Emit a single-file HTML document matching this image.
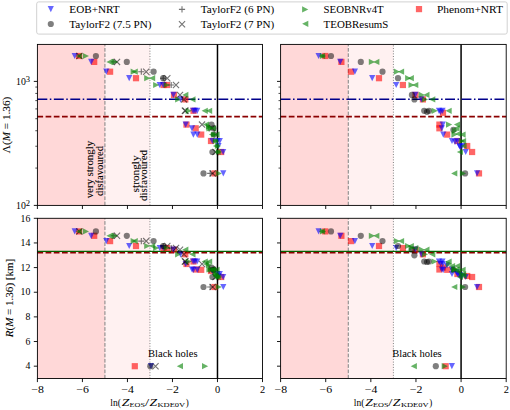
<!DOCTYPE html>
<html><head><meta charset="utf-8"><style>html,body{margin:0;padding:0;background:#fff;}svg{display:block;}</style></head><body>
<svg width="510" height="410" viewBox="0 0 510 410" font-family='"Liberation Serif", serif'>
<rect width="510" height="410" fill="#fff"/>
<rect x="37.40" y="44.40" width="67.53" height="161.00" fill="rgb(255,216,216)"/>
<rect x="104.93" y="44.40" width="45.02" height="161.00" fill="rgb(255,241,241)"/>
<path d="M104.93,205.40V44.40" stroke="rgb(128,128,128)" stroke-width="1" stroke-dasharray="3.7 1.6"/>
<path d="M149.95,205.40V44.40" stroke="rgb(128,128,128)" stroke-width="1" stroke-dasharray="1 1.65"/>
<path d="M217.48,205.40V44.40" stroke="#000" stroke-width="1.5"/>
<path d="M37.40,99.3H262.50" stroke="rgb(0,0,139)" stroke-width="1.55" stroke-dasharray="9.9 2.5 1.55 2.5"/>
<path d="M37.40,116.6H262.50" stroke="rgb(139,0,0)" stroke-width="1.55" stroke-dasharray="5.7 2.5"/>
<rect x="75.90" y="52.90" width="6.20" height="6.20" fill="rgba(255,0,0,0.6)"/>
<rect x="91.10" y="58.80" width="6.20" height="6.20" fill="rgba(255,0,0,0.6)"/>
<rect x="107.00" y="68.60" width="6.20" height="6.20" fill="rgba(255,0,0,0.6)"/>
<rect x="132.90" y="75.10" width="6.20" height="6.20" fill="rgba(255,0,0,0.6)"/>
<rect x="160.40" y="81.90" width="6.20" height="6.20" fill="rgba(255,0,0,0.6)"/>
<rect x="163.90" y="81.90" width="6.20" height="6.20" fill="rgba(255,0,0,0.6)"/>
<rect x="170.90" y="91.80" width="6.20" height="6.20" fill="rgba(255,0,0,0.6)"/>
<rect x="182.20" y="96.30" width="6.20" height="6.20" fill="rgba(255,0,0,0.6)"/>
<rect x="190.40" y="107.70" width="6.20" height="6.20" fill="rgba(255,0,0,0.6)"/>
<rect x="183.40" y="121.50" width="6.20" height="6.20" fill="rgba(255,0,0,0.6)"/>
<rect x="192.60" y="125.20" width="6.20" height="6.20" fill="rgba(255,0,0,0.6)"/>
<rect x="198.10" y="131.50" width="6.20" height="6.20" fill="rgba(255,0,0,0.6)"/>
<rect x="207.90" y="137.90" width="6.20" height="6.20" fill="rgba(255,0,0,0.6)"/>
<rect x="218.10" y="148.90" width="6.20" height="6.20" fill="rgba(255,0,0,0.6)"/>
<rect x="211.40" y="170.30" width="6.20" height="6.20" fill="rgba(255,0,0,0.6)"/>
<polygon points="71.60,52.90 77.80,52.90 74.70,59.10" fill="rgba(0,0,255,0.6)"/>
<polygon points="88.10,58.80 94.30,58.80 91.20,65.00" fill="rgba(0,0,255,0.6)"/>
<polygon points="103.20,68.60 109.40,68.60 106.30,74.80" fill="rgba(0,0,255,0.6)"/>
<polygon points="126.10,75.10 132.30,75.10 129.20,81.30" fill="rgba(0,0,255,0.6)"/>
<polygon points="156.60,81.90 162.80,81.90 159.70,88.10" fill="rgba(0,0,255,0.6)"/>
<polygon points="160.10,81.90 166.30,81.90 163.20,88.10" fill="rgba(0,0,255,0.6)"/>
<polygon points="170.30,91.80 176.50,91.80 173.40,98.00" fill="rgba(0,0,255,0.6)"/>
<polygon points="177.40,96.30 183.60,96.30 180.50,102.50" fill="rgba(0,0,255,0.6)"/>
<polygon points="190.10,107.70 196.30,107.70 193.20,113.90" fill="rgba(0,0,255,0.6)"/>
<polygon points="194.10,107.70 200.30,107.70 197.20,113.90" fill="rgba(0,0,255,0.6)"/>
<polygon points="191.90,107.70 198.10,107.70 195.00,113.90" fill="rgba(0,0,255,0.6)"/>
<polygon points="182.60,121.50 188.80,121.50 185.70,127.70" fill="rgba(0,0,255,0.6)"/>
<polygon points="188.90,125.20 195.10,125.20 192.00,131.40" fill="rgba(0,0,255,0.6)"/>
<polygon points="190.30,131.50 196.50,131.50 193.40,137.70" fill="rgba(0,0,255,0.6)"/>
<polygon points="194.20,131.50 200.40,131.50 197.30,137.70" fill="rgba(0,0,255,0.6)"/>
<polygon points="209.30,137.90 215.50,137.90 212.40,144.10" fill="rgba(0,0,255,0.6)"/>
<polygon points="214.40,137.90 220.60,137.90 217.50,144.10" fill="rgba(0,0,255,0.6)"/>
<polygon points="216.70,137.90 222.90,137.90 219.80,144.10" fill="rgba(0,0,255,0.6)"/>
<polygon points="215.40,142.90 221.60,142.90 218.50,149.10" fill="rgba(0,0,255,0.6)"/>
<polygon points="220.10,148.90 226.30,148.90 223.20,155.10" fill="rgba(0,0,255,0.6)"/>
<polygon points="220.20,170.30 226.40,170.30 223.30,176.50" fill="rgba(0,0,255,0.6)"/>
<circle cx="95.90" cy="56.00" r="3.10" fill="rgba(0,0,0,0.5)"/>
<circle cx="126.80" cy="61.90" r="3.10" fill="rgba(0,0,0,0.5)"/>
<circle cx="153.60" cy="71.70" r="3.10" fill="rgba(0,0,0,0.5)"/>
<circle cx="163.20" cy="78.20" r="3.10" fill="rgba(0,0,0,0.5)"/>
<circle cx="211.50" cy="124.60" r="3.10" fill="rgba(0,0,0,0.5)"/>
<circle cx="213.40" cy="128.30" r="3.10" fill="rgba(0,0,0,0.5)"/>
<circle cx="214.00" cy="134.60" r="3.10" fill="rgba(0,0,0,0.5)"/>
<circle cx="212.40" cy="152.00" r="3.10" fill="rgba(0,0,0,0.5)"/>
<circle cx="203.50" cy="173.40" r="3.10" fill="rgba(0,0,0,0.5)"/>
<path d="M110.70,61.90H116.90M113.80,58.80V65.00" stroke="rgba(0,0,0,0.55)" stroke-width="1.1" fill="none"/>
<path d="M138.20,71.70H144.40M141.30,68.60V74.80" stroke="rgba(0,0,0,0.55)" stroke-width="1.1" fill="none"/>
<path d="M160.10,78.20H166.30M163.20,75.10V81.30" stroke="rgba(0,0,0,0.55)" stroke-width="1.1" fill="none"/>
<path d="M168.10,85.00H174.30M171.20,81.90V88.10" stroke="rgba(0,0,0,0.55)" stroke-width="1.1" fill="none"/>
<path d="M207.10,173.40H213.30M210.20,170.30V176.50" stroke="rgba(0,0,0,0.55)" stroke-width="1.1" fill="none"/>
<path d="M76.30,52.90L82.50,59.10M76.30,59.10L82.50,52.90" stroke="rgba(0,0,0,0.55)" stroke-width="1.1" fill="none"/>
<path d="M113.90,58.80L120.10,65.00M113.90,65.00L120.10,58.80" stroke="rgba(0,0,0,0.55)" stroke-width="1.1" fill="none"/>
<path d="M143.10,68.60L149.30,74.80M143.10,74.80L149.30,68.60" stroke="rgba(0,0,0,0.55)" stroke-width="1.1" fill="none"/>
<path d="M164.20,75.10L170.40,81.30M164.20,81.30L170.40,75.10" stroke="rgba(0,0,0,0.55)" stroke-width="1.1" fill="none"/>
<path d="M172.90,81.90L179.10,88.10M172.90,88.10L179.10,81.90" stroke="rgba(0,0,0,0.55)" stroke-width="1.1" fill="none"/>
<path d="M176.90,91.80L183.10,98.00M176.90,98.00L183.10,91.80" stroke="rgba(0,0,0,0.55)" stroke-width="1.1" fill="none"/>
<path d="M180.90,96.30L187.10,102.50M180.90,102.50L187.10,96.30" stroke="rgba(0,0,0,0.55)" stroke-width="1.1" fill="none"/>
<path d="M181.80,107.70L188.00,113.90M181.80,113.90L188.00,107.70" stroke="rgba(0,0,0,0.55)" stroke-width="1.1" fill="none"/>
<path d="M182.40,107.70L188.60,113.90M182.40,113.90L188.60,107.70" stroke="rgba(0,0,0,0.55)" stroke-width="1.1" fill="none"/>
<path d="M198.90,121.50L205.10,127.70M198.90,127.70L205.10,121.50" stroke="rgba(0,0,0,0.55)" stroke-width="1.1" fill="none"/>
<path d="M208.90,125.20L215.10,131.40M208.90,131.40L215.10,125.20" stroke="rgba(0,0,0,0.55)" stroke-width="1.1" fill="none"/>
<path d="M212.40,148.90L218.60,155.10M212.40,155.10L218.60,148.90" stroke="rgba(0,0,0,0.55)" stroke-width="1.1" fill="none"/>
<path d="M209.60,170.30L215.80,176.50M209.60,176.50L215.80,170.30" stroke="rgba(0,0,0,0.55)" stroke-width="1.1" fill="none"/>
<polygon points="82.80,52.90 89.00,56.00 82.80,59.10" fill="rgba(0,128,0,0.6)"/>
<polygon points="111.90,58.80 118.10,61.90 111.90,65.00" fill="rgba(0,128,0,0.6)"/>
<polygon points="130.60,68.60 136.80,71.70 130.60,74.80" fill="rgba(0,128,0,0.6)"/>
<polygon points="144.20,75.10 150.40,78.20 144.20,81.30" fill="rgba(0,128,0,0.6)"/>
<polygon points="153.10,81.90 159.30,85.00 153.10,88.10" fill="rgba(0,128,0,0.6)"/>
<polygon points="163.70,81.90 169.90,85.00 163.70,88.10" fill="rgba(0,128,0,0.6)"/>
<polygon points="175.10,96.30 181.30,99.40 175.10,102.50" fill="rgba(0,128,0,0.6)"/>
<polygon points="185.70,107.70 191.90,110.80 185.70,113.90" fill="rgba(0,128,0,0.6)"/>
<polygon points="205.90,123.50 212.10,126.60 205.90,129.70" fill="rgba(0,128,0,0.6)"/>
<polygon points="206.40,125.20 212.60,128.30 206.40,131.40" fill="rgba(0,128,0,0.6)"/>
<polygon points="207.90,125.20 214.10,128.30 207.90,131.40" fill="rgba(0,128,0,0.6)"/>
<polygon points="210.90,131.50 217.10,134.60 210.90,137.70" fill="rgba(0,128,0,0.6)"/>
<polygon points="212.90,137.90 219.10,141.00 212.90,144.10" fill="rgba(0,128,0,0.6)"/>
<polygon points="214.90,142.90 221.10,146.00 214.90,149.10" fill="rgba(0,128,0,0.6)"/>
<polygon points="215.90,148.90 222.10,152.00 215.90,155.10" fill="rgba(0,128,0,0.6)"/>
<polygon points="215.70,170.30 221.90,173.40 215.70,176.50" fill="rgba(0,128,0,0.6)"/>
<polygon points="81.90,52.90 75.70,56.00 81.90,59.10" fill="rgba(0,128,0,0.6)"/>
<polygon points="112.60,58.80 106.40,61.90 112.60,65.00" fill="rgba(0,128,0,0.6)"/>
<polygon points="137.80,68.60 131.60,71.70 137.80,74.80" fill="rgba(0,128,0,0.6)"/>
<polygon points="155.20,75.10 149.00,78.20 155.20,81.30" fill="rgba(0,128,0,0.6)"/>
<polygon points="188.40,91.80 182.20,94.90 188.40,98.00" fill="rgba(0,128,0,0.6)"/>
<polygon points="195.50,96.30 189.30,99.40 195.50,102.50" fill="rgba(0,128,0,0.6)"/>
<polygon points="207.80,107.70 201.60,110.80 207.80,113.90" fill="rgba(0,128,0,0.6)"/>
<polygon points="212.20,107.70 206.00,110.80 212.20,113.90" fill="rgba(0,128,0,0.6)"/>
<polygon points="209.10,121.50 202.90,124.60 209.10,127.70" fill="rgba(0,128,0,0.6)"/>
<polygon points="216.10,125.20 209.90,128.30 216.10,131.40" fill="rgba(0,128,0,0.6)"/>
<polygon points="215.10,131.50 208.90,134.60 215.10,137.70" fill="rgba(0,128,0,0.6)"/>
<polygon points="219.60,131.50 213.40,134.60 219.60,137.70" fill="rgba(0,128,0,0.6)"/>
<polygon points="218.10,137.90 211.90,141.00 218.10,144.10" fill="rgba(0,128,0,0.6)"/>
<polygon points="219.10,142.90 212.90,146.00 219.10,149.10" fill="rgba(0,128,0,0.6)"/>
<polygon points="220.60,148.90 214.40,152.00 220.60,155.10" fill="rgba(0,128,0,0.6)"/>
<rect x="37.40" y="44.40" width="225.10" height="161.00" fill="none" stroke="#000" stroke-width="0.9"/>
<path d="M37.40,205.40V209.00" stroke="#000" stroke-width="0.9"/>
<path d="M82.42,205.40V209.00" stroke="#000" stroke-width="0.9"/>
<path d="M127.44,205.40V209.00" stroke="#000" stroke-width="0.9"/>
<path d="M172.46,205.40V209.00" stroke="#000" stroke-width="0.9"/>
<path d="M217.48,205.40V209.00" stroke="#000" stroke-width="0.9"/>
<path d="M262.50,205.40V209.00" stroke="#000" stroke-width="0.9"/>
<path d="M33.80,205.40H37.40" stroke="#000" stroke-width="0.9"/>
<path d="M33.80,81.40H37.40" stroke="#000" stroke-width="0.9"/>
<path d="M35.30,168.07H37.40" stroke="#000" stroke-width="0.7"/>
<path d="M35.30,146.24H37.40" stroke="#000" stroke-width="0.7"/>
<path d="M35.30,130.74H37.40" stroke="#000" stroke-width="0.7"/>
<path d="M35.30,118.73H37.40" stroke="#000" stroke-width="0.7"/>
<path d="M35.30,108.91H37.40" stroke="#000" stroke-width="0.7"/>
<path d="M35.30,100.61H37.40" stroke="#000" stroke-width="0.7"/>
<path d="M35.30,93.42H37.40" stroke="#000" stroke-width="0.7"/>
<path d="M35.30,87.07H37.40" stroke="#000" stroke-width="0.7"/>
<rect x="37.40" y="218.30" width="67.53" height="160.20" fill="rgb(255,216,216)"/>
<rect x="104.93" y="218.30" width="45.02" height="160.20" fill="rgb(255,241,241)"/>
<path d="M104.93,378.50V218.30" stroke="rgb(128,128,128)" stroke-width="1" stroke-dasharray="3.7 1.6"/>
<path d="M149.95,378.50V218.30" stroke="rgb(128,128,128)" stroke-width="1" stroke-dasharray="1 1.65"/>
<path d="M217.48,378.50V218.30" stroke="#000" stroke-width="1.5"/>
<path d="M37.40,251.4H262.50" stroke="rgb(0,100,0)" stroke-width="1.1"/>
<path d="M37.40,252.7H262.50" stroke="rgb(139,0,0)" stroke-width="1.55" stroke-dasharray="5.7 2.5"/>
<rect x="75.90" y="228.30" width="6.20" height="6.20" fill="rgba(255,0,0,0.6)"/>
<rect x="91.10" y="232.70" width="6.20" height="6.20" fill="rgba(255,0,0,0.6)"/>
<rect x="107.00" y="238.00" width="6.20" height="6.20" fill="rgba(255,0,0,0.6)"/>
<rect x="132.90" y="242.90" width="6.20" height="6.20" fill="rgba(255,0,0,0.6)"/>
<rect x="160.40" y="244.90" width="6.20" height="6.20" fill="rgba(255,0,0,0.6)"/>
<rect x="163.90" y="244.90" width="6.20" height="6.20" fill="rgba(255,0,0,0.6)"/>
<rect x="170.90" y="246.60" width="6.20" height="6.20" fill="rgba(255,0,0,0.6)"/>
<rect x="182.20" y="251.20" width="6.20" height="6.20" fill="rgba(255,0,0,0.6)"/>
<rect x="190.40" y="258.40" width="6.20" height="6.20" fill="rgba(255,0,0,0.6)"/>
<rect x="183.40" y="260.90" width="6.20" height="6.20" fill="rgba(255,0,0,0.6)"/>
<rect x="192.60" y="266.40" width="6.20" height="6.20" fill="rgba(255,0,0,0.6)"/>
<rect x="198.10" y="266.70" width="6.20" height="6.20" fill="rgba(255,0,0,0.6)"/>
<rect x="207.90" y="267.90" width="6.20" height="6.20" fill="rgba(255,0,0,0.6)"/>
<rect x="218.10" y="273.90" width="6.20" height="6.20" fill="rgba(255,0,0,0.6)"/>
<rect x="211.40" y="283.90" width="6.20" height="6.20" fill="rgba(255,0,0,0.6)"/>
<rect x="131.70" y="363.10" width="6.20" height="6.20" fill="rgba(255,0,0,0.6)"/>
<polygon points="71.60,228.30 77.80,228.30 74.70,234.50" fill="rgba(0,0,255,0.6)"/>
<polygon points="88.10,232.70 94.30,232.70 91.20,238.90" fill="rgba(0,0,255,0.6)"/>
<polygon points="103.20,238.00 109.40,238.00 106.30,244.20" fill="rgba(0,0,255,0.6)"/>
<polygon points="126.10,242.90 132.30,242.90 129.20,249.10" fill="rgba(0,0,255,0.6)"/>
<polygon points="156.60,244.90 162.80,244.90 159.70,251.10" fill="rgba(0,0,255,0.6)"/>
<polygon points="160.10,244.90 166.30,244.90 163.20,251.10" fill="rgba(0,0,255,0.6)"/>
<polygon points="170.30,246.60 176.50,246.60 173.40,252.80" fill="rgba(0,0,255,0.6)"/>
<polygon points="177.40,251.20 183.60,251.20 180.50,257.40" fill="rgba(0,0,255,0.6)"/>
<polygon points="190.10,258.40 196.30,258.40 193.20,264.60" fill="rgba(0,0,255,0.6)"/>
<polygon points="194.10,258.40 200.30,258.40 197.20,264.60" fill="rgba(0,0,255,0.6)"/>
<polygon points="191.90,258.40 198.10,258.40 195.00,264.60" fill="rgba(0,0,255,0.6)"/>
<polygon points="182.60,260.90 188.80,260.90 185.70,267.10" fill="rgba(0,0,255,0.6)"/>
<polygon points="188.90,266.40 195.10,266.40 192.00,272.60" fill="rgba(0,0,255,0.6)"/>
<polygon points="190.30,266.70 196.50,266.70 193.40,272.90" fill="rgba(0,0,255,0.6)"/>
<polygon points="194.20,266.70 200.40,266.70 197.30,272.90" fill="rgba(0,0,255,0.6)"/>
<polygon points="209.30,267.90 215.50,267.90 212.40,274.10" fill="rgba(0,0,255,0.6)"/>
<polygon points="214.40,270.90 220.60,270.90 217.50,277.10" fill="rgba(0,0,255,0.6)"/>
<polygon points="216.70,270.90 222.90,270.90 219.80,277.10" fill="rgba(0,0,255,0.6)"/>
<polygon points="215.40,272.90 221.60,272.90 218.50,279.10" fill="rgba(0,0,255,0.6)"/>
<polygon points="220.10,273.90 226.30,273.90 223.20,280.10" fill="rgba(0,0,255,0.6)"/>
<polygon points="220.20,283.90 226.40,283.90 223.30,290.10" fill="rgba(0,0,255,0.6)"/>
<polygon points="147.90,363.10 154.10,363.10 151.00,369.30" fill="rgba(0,0,255,0.6)"/>
<circle cx="95.90" cy="231.40" r="3.10" fill="rgba(0,0,0,0.5)"/>
<circle cx="126.80" cy="235.80" r="3.10" fill="rgba(0,0,0,0.5)"/>
<circle cx="153.60" cy="241.10" r="3.10" fill="rgba(0,0,0,0.5)"/>
<circle cx="163.20" cy="246.00" r="3.10" fill="rgba(0,0,0,0.5)"/>
<circle cx="211.50" cy="267.50" r="3.10" fill="rgba(0,0,0,0.5)"/>
<circle cx="213.40" cy="269.50" r="3.10" fill="rgba(0,0,0,0.5)"/>
<circle cx="214.00" cy="269.80" r="3.10" fill="rgba(0,0,0,0.5)"/>
<circle cx="212.40" cy="277.00" r="3.10" fill="rgba(0,0,0,0.5)"/>
<circle cx="203.50" cy="287.00" r="3.10" fill="rgba(0,0,0,0.5)"/>
<circle cx="150.30" cy="366.20" r="3.10" fill="rgba(0,0,0,0.5)"/>
<path d="M110.70,235.80H116.90M113.80,232.70V238.90" stroke="rgba(0,0,0,0.55)" stroke-width="1.1" fill="none"/>
<path d="M138.20,241.10H144.40M141.30,238.00V244.20" stroke="rgba(0,0,0,0.55)" stroke-width="1.1" fill="none"/>
<path d="M160.10,246.00H166.30M163.20,242.90V249.10" stroke="rgba(0,0,0,0.55)" stroke-width="1.1" fill="none"/>
<path d="M168.10,248.00H174.30M171.20,244.90V251.10" stroke="rgba(0,0,0,0.55)" stroke-width="1.1" fill="none"/>
<path d="M207.10,287.00H213.30M210.20,283.90V290.10" stroke="rgba(0,0,0,0.55)" stroke-width="1.1" fill="none"/>
<path d="M76.30,228.30L82.50,234.50M76.30,234.50L82.50,228.30" stroke="rgba(0,0,0,0.55)" stroke-width="1.1" fill="none"/>
<path d="M113.90,232.70L120.10,238.90M113.90,238.90L120.10,232.70" stroke="rgba(0,0,0,0.55)" stroke-width="1.1" fill="none"/>
<path d="M143.10,238.00L149.30,244.20M143.10,244.20L149.30,238.00" stroke="rgba(0,0,0,0.55)" stroke-width="1.1" fill="none"/>
<path d="M164.20,242.90L170.40,249.10M164.20,249.10L170.40,242.90" stroke="rgba(0,0,0,0.55)" stroke-width="1.1" fill="none"/>
<path d="M172.90,244.90L179.10,251.10M172.90,251.10L179.10,244.90" stroke="rgba(0,0,0,0.55)" stroke-width="1.1" fill="none"/>
<path d="M176.90,246.60L183.10,252.80M176.90,252.80L183.10,246.60" stroke="rgba(0,0,0,0.55)" stroke-width="1.1" fill="none"/>
<path d="M180.90,251.20L187.10,257.40M180.90,257.40L187.10,251.20" stroke="rgba(0,0,0,0.55)" stroke-width="1.1" fill="none"/>
<path d="M181.80,258.40L188.00,264.60M181.80,264.60L188.00,258.40" stroke="rgba(0,0,0,0.55)" stroke-width="1.1" fill="none"/>
<path d="M182.40,258.40L188.60,264.60M182.40,264.60L188.60,258.40" stroke="rgba(0,0,0,0.55)" stroke-width="1.1" fill="none"/>
<path d="M198.90,260.90L205.10,267.10M198.90,267.10L205.10,260.90" stroke="rgba(0,0,0,0.55)" stroke-width="1.1" fill="none"/>
<path d="M208.90,266.40L215.10,272.60M208.90,272.60L215.10,266.40" stroke="rgba(0,0,0,0.55)" stroke-width="1.1" fill="none"/>
<path d="M212.40,273.90L218.60,280.10M212.40,280.10L218.60,273.90" stroke="rgba(0,0,0,0.55)" stroke-width="1.1" fill="none"/>
<path d="M209.60,283.90L215.80,290.10M209.60,290.10L215.80,283.90" stroke="rgba(0,0,0,0.55)" stroke-width="1.1" fill="none"/>
<path d="M152.40,363.10L158.60,369.30M152.40,369.30L158.60,363.10" stroke="rgba(0,0,0,0.55)" stroke-width="1.1" fill="none"/>
<polygon points="82.80,228.30 89.00,231.40 82.80,234.50" fill="rgba(0,128,0,0.6)"/>
<polygon points="111.90,232.70 118.10,235.80 111.90,238.90" fill="rgba(0,128,0,0.6)"/>
<polygon points="130.60,238.00 136.80,241.10 130.60,244.20" fill="rgba(0,128,0,0.6)"/>
<polygon points="144.20,242.90 150.40,246.00 144.20,249.10" fill="rgba(0,128,0,0.6)"/>
<polygon points="153.10,244.90 159.30,248.00 153.10,251.10" fill="rgba(0,128,0,0.6)"/>
<polygon points="163.70,244.90 169.90,248.00 163.70,251.10" fill="rgba(0,128,0,0.6)"/>
<polygon points="175.10,251.20 181.30,254.30 175.10,257.40" fill="rgba(0,128,0,0.6)"/>
<polygon points="185.70,258.40 191.90,261.50 185.70,264.60" fill="rgba(0,128,0,0.6)"/>
<polygon points="205.90,261.90 212.10,265.00 205.90,268.10" fill="rgba(0,128,0,0.6)"/>
<polygon points="206.40,266.40 212.60,269.50 206.40,272.60" fill="rgba(0,128,0,0.6)"/>
<polygon points="207.90,266.40 214.10,269.50 207.90,272.60" fill="rgba(0,128,0,0.6)"/>
<polygon points="210.90,266.70 217.10,269.80 210.90,272.90" fill="rgba(0,128,0,0.6)"/>
<polygon points="212.90,270.90 219.10,274.00 212.90,277.10" fill="rgba(0,128,0,0.6)"/>
<polygon points="214.90,272.90 221.10,276.00 214.90,279.10" fill="rgba(0,128,0,0.6)"/>
<polygon points="215.90,273.90 222.10,277.00 215.90,280.10" fill="rgba(0,128,0,0.6)"/>
<polygon points="215.70,283.90 221.90,287.00 215.70,290.10" fill="rgba(0,128,0,0.6)"/>
<polygon points="202.00,363.10 208.20,366.20 202.00,369.30" fill="rgba(0,128,0,0.6)"/>
<polygon points="81.90,228.30 75.70,231.40 81.90,234.50" fill="rgba(0,128,0,0.6)"/>
<polygon points="112.60,232.70 106.40,235.80 112.60,238.90" fill="rgba(0,128,0,0.6)"/>
<polygon points="137.80,238.00 131.60,241.10 137.80,244.20" fill="rgba(0,128,0,0.6)"/>
<polygon points="155.20,242.90 149.00,246.00 155.20,249.10" fill="rgba(0,128,0,0.6)"/>
<polygon points="188.40,246.60 182.20,249.70 188.40,252.80" fill="rgba(0,128,0,0.6)"/>
<polygon points="195.50,251.20 189.30,254.30 195.50,257.40" fill="rgba(0,128,0,0.6)"/>
<polygon points="207.80,258.40 201.60,261.50 207.80,264.60" fill="rgba(0,128,0,0.6)"/>
<polygon points="212.20,258.40 206.00,261.50 212.20,264.60" fill="rgba(0,128,0,0.6)"/>
<polygon points="209.10,260.90 202.90,264.00 209.10,267.10" fill="rgba(0,128,0,0.6)"/>
<polygon points="216.10,266.40 209.90,269.50 216.10,272.60" fill="rgba(0,128,0,0.6)"/>
<polygon points="215.10,266.70 208.90,269.80 215.10,272.90" fill="rgba(0,128,0,0.6)"/>
<polygon points="219.60,266.70 213.40,269.80 219.60,272.90" fill="rgba(0,128,0,0.6)"/>
<polygon points="218.10,270.90 211.90,274.00 218.10,277.10" fill="rgba(0,128,0,0.6)"/>
<polygon points="219.10,272.90 212.90,276.00 219.10,279.10" fill="rgba(0,128,0,0.6)"/>
<polygon points="220.60,273.90 214.40,277.00 220.60,280.10" fill="rgba(0,128,0,0.6)"/>
<polygon points="183.00,363.10 176.80,366.20 183.00,369.30" fill="rgba(0,128,0,0.6)"/>
<rect x="37.40" y="218.30" width="225.10" height="160.20" fill="none" stroke="#000" stroke-width="0.9"/>
<path d="M37.40,378.50V382.10" stroke="#000" stroke-width="0.9"/>
<path d="M82.42,378.50V382.10" stroke="#000" stroke-width="0.9"/>
<path d="M127.44,378.50V382.10" stroke="#000" stroke-width="0.9"/>
<path d="M172.46,378.50V382.10" stroke="#000" stroke-width="0.9"/>
<path d="M217.48,378.50V382.10" stroke="#000" stroke-width="0.9"/>
<path d="M262.50,378.50V382.10" stroke="#000" stroke-width="0.9"/>
<path d="M33.80,366.18H37.40" stroke="#000" stroke-width="0.9"/>
<path d="M33.80,341.53H37.40" stroke="#000" stroke-width="0.9"/>
<path d="M33.80,316.88H37.40" stroke="#000" stroke-width="0.9"/>
<path d="M33.80,292.24H37.40" stroke="#000" stroke-width="0.9"/>
<path d="M33.80,267.59H37.40" stroke="#000" stroke-width="0.9"/>
<path d="M33.80,242.95H37.40" stroke="#000" stroke-width="0.9"/>
<path d="M33.80,218.30H37.40" stroke="#000" stroke-width="0.9"/>
<text x="37.60" y="392.7" font-size="9.8" text-anchor="middle" textLength="12.6" lengthAdjust="spacingAndGlyphs">−8</text>
<text x="82.62" y="392.7" font-size="9.8" text-anchor="middle" textLength="12.6" lengthAdjust="spacingAndGlyphs">−6</text>
<text x="127.64" y="392.7" font-size="9.8" text-anchor="middle" textLength="12.6" lengthAdjust="spacingAndGlyphs">−4</text>
<text x="172.66" y="392.7" font-size="9.8" text-anchor="middle" textLength="12.6" lengthAdjust="spacingAndGlyphs">−2</text>
<text x="217.68" y="392.7" font-size="9.8" text-anchor="middle" textLength="5.2" lengthAdjust="spacingAndGlyphs">0</text>
<text x="262.70" y="392.7" font-size="9.8" text-anchor="middle" textLength="5.2" lengthAdjust="spacingAndGlyphs">2</text>
<text x="110.30" y="405.7" font-size="9.8" textLength="10.6" lengthAdjust="spacingAndGlyphs">ln(</text>
<text x="121.80" y="405.7" font-size="9.8" font-style="italic" textLength="7.6" lengthAdjust="spacingAndGlyphs">Z</text>
<text x="129.60" y="406.9" font-size="6.6" textLength="15.4" lengthAdjust="spacingAndGlyphs">EOS</text>
<text x="144.90" y="405.7" font-size="9.8" textLength="4.2" lengthAdjust="spacingAndGlyphs">/</text>
<text x="149.40" y="405.7" font-size="9.8" font-style="italic" textLength="7.6" lengthAdjust="spacingAndGlyphs">Z</text>
<text x="157.50" y="406.9" font-size="6.6" textLength="27.6" lengthAdjust="spacingAndGlyphs">KDE0V</text>
<text x="185.80" y="405.7" font-size="9.8" textLength="3.0" lengthAdjust="spacingAndGlyphs">)</text>
<text x="148.00" y="356.7" font-size="9.6" textLength="49.5" lengthAdjust="spacingAndGlyphs">Black holes</text>
<rect x="280.60" y="44.40" width="67.68" height="161.00" fill="rgb(255,216,216)"/>
<rect x="348.28" y="44.40" width="45.12" height="161.00" fill="rgb(255,241,241)"/>
<path d="M348.28,205.40V44.40" stroke="rgb(128,128,128)" stroke-width="1" stroke-dasharray="3.7 1.6"/>
<path d="M393.40,205.40V44.40" stroke="rgb(128,128,128)" stroke-width="1" stroke-dasharray="1 1.65"/>
<path d="M461.08,205.40V44.40" stroke="#000" stroke-width="1.5"/>
<path d="M280.60,99.3H506.20" stroke="rgb(0,0,139)" stroke-width="1.55" stroke-dasharray="9.9 2.5 1.55 2.5"/>
<path d="M280.60,116.6H506.20" stroke="rgb(139,0,0)" stroke-width="1.55" stroke-dasharray="5.7 2.5"/>
<rect x="322.20" y="52.90" width="6.20" height="6.20" fill="rgba(255,0,0,0.6)"/>
<rect x="338.30" y="58.80" width="6.20" height="6.20" fill="rgba(255,0,0,0.6)"/>
<rect x="347.90" y="68.60" width="6.20" height="6.20" fill="rgba(255,0,0,0.6)"/>
<rect x="375.90" y="75.10" width="6.20" height="6.20" fill="rgba(255,0,0,0.6)"/>
<rect x="399.80" y="81.90" width="6.20" height="6.20" fill="rgba(255,0,0,0.6)"/>
<rect x="412.40" y="91.80" width="6.20" height="6.20" fill="rgba(255,0,0,0.6)"/>
<rect x="419.80" y="96.30" width="6.20" height="6.20" fill="rgba(255,0,0,0.6)"/>
<rect x="439.90" y="109.70" width="6.20" height="6.20" fill="rgba(255,0,0,0.6)"/>
<rect x="436.30" y="121.50" width="6.20" height="6.20" fill="rgba(255,0,0,0.6)"/>
<rect x="436.30" y="125.20" width="6.20" height="6.20" fill="rgba(255,0,0,0.6)"/>
<rect x="444.10" y="131.50" width="6.20" height="6.20" fill="rgba(255,0,0,0.6)"/>
<rect x="454.30" y="137.90" width="6.20" height="6.20" fill="rgba(255,0,0,0.6)"/>
<rect x="464.10" y="142.90" width="6.20" height="6.20" fill="rgba(255,0,0,0.6)"/>
<rect x="469.00" y="148.90" width="6.20" height="6.20" fill="rgba(255,0,0,0.6)"/>
<rect x="475.90" y="170.30" width="6.20" height="6.20" fill="rgba(255,0,0,0.6)"/>
<polygon points="315.50,52.90 321.70,52.90 318.60,59.10" fill="rgba(0,0,255,0.6)"/>
<polygon points="337.10,58.80 343.30,58.80 340.20,65.00" fill="rgba(0,0,255,0.6)"/>
<polygon points="351.80,68.60 358.00,68.60 354.90,74.80" fill="rgba(0,0,255,0.6)"/>
<polygon points="369.10,75.10 375.30,75.10 372.20,81.30" fill="rgba(0,0,255,0.6)"/>
<polygon points="393.10,81.90 399.30,81.90 396.20,88.10" fill="rgba(0,0,255,0.6)"/>
<polygon points="412.20,91.80 418.40,91.80 415.30,98.00" fill="rgba(0,0,255,0.6)"/>
<polygon points="418.30,96.30 424.50,96.30 421.40,102.50" fill="rgba(0,0,255,0.6)"/>
<polygon points="435.90,107.70 442.10,107.70 439.00,113.90" fill="rgba(0,0,255,0.6)"/>
<polygon points="439.40,107.70 445.60,107.70 442.50,113.90" fill="rgba(0,0,255,0.6)"/>
<polygon points="437.40,108.70 443.60,108.70 440.50,114.90" fill="rgba(0,0,255,0.6)"/>
<polygon points="439.70,121.50 445.90,121.50 442.80,127.70" fill="rgba(0,0,255,0.6)"/>
<polygon points="438.70,125.20 444.90,125.20 441.80,131.40" fill="rgba(0,0,255,0.6)"/>
<polygon points="440.20,131.50 446.40,131.50 443.30,137.70" fill="rgba(0,0,255,0.6)"/>
<polygon points="448.90,137.90 455.10,137.90 452.00,144.10" fill="rgba(0,0,255,0.6)"/>
<polygon points="454.30,137.90 460.50,137.90 457.40,144.10" fill="rgba(0,0,255,0.6)"/>
<polygon points="456.30,142.90 462.50,142.90 459.40,149.10" fill="rgba(0,0,255,0.6)"/>
<polygon points="459.20,142.90 465.40,142.90 462.30,149.10" fill="rgba(0,0,255,0.6)"/>
<polygon points="462.60,148.90 468.80,148.90 465.70,155.10" fill="rgba(0,0,255,0.6)"/>
<polygon points="474.00,170.30 480.20,170.30 477.10,176.50" fill="rgba(0,0,255,0.6)"/>
<polygon points="451.90,138.90 458.10,138.90 455.00,145.10" fill="rgba(0,0,255,0.6)"/>
<polygon points="456.90,143.90 463.10,143.90 460.00,150.10" fill="rgba(0,0,255,0.6)"/>
<circle cx="331.00" cy="56.00" r="3.10" fill="rgba(0,0,0,0.5)"/>
<circle cx="360.80" cy="61.90" r="3.10" fill="rgba(0,0,0,0.5)"/>
<circle cx="382.50" cy="71.70" r="3.10" fill="rgba(0,0,0,0.5)"/>
<circle cx="398.00" cy="78.20" r="3.10" fill="rgba(0,0,0,0.5)"/>
<circle cx="411.90" cy="94.90" r="3.10" fill="rgba(0,0,0,0.5)"/>
<circle cx="414.40" cy="99.40" r="3.10" fill="rgba(0,0,0,0.5)"/>
<circle cx="424.20" cy="110.80" r="3.10" fill="rgba(0,0,0,0.5)"/>
<circle cx="429.00" cy="110.80" r="3.10" fill="rgba(0,0,0,0.5)"/>
<circle cx="427.00" cy="111.80" r="3.10" fill="rgba(0,0,0,0.5)"/>
<circle cx="453.40" cy="129.80" r="3.10" fill="rgba(0,0,0,0.5)"/>
<circle cx="465.10" cy="173.40" r="3.10" fill="rgba(0,0,0,0.5)"/>
<polygon points="319.90,52.90 326.10,56.00 319.90,59.10" fill="rgba(0,128,0,0.6)"/>
<polygon points="368.80,58.80 375.00,61.90 368.80,65.00" fill="rgba(0,128,0,0.6)"/>
<polygon points="393.85,68.60 400.05,71.70 393.85,74.80" fill="rgba(0,128,0,0.6)"/>
<polygon points="405.10,75.10 411.30,78.20 405.10,81.30" fill="rgba(0,128,0,0.6)"/>
<polygon points="408.50,81.90 414.70,85.00 408.50,88.10" fill="rgba(0,128,0,0.6)"/>
<polygon points="418.70,91.80 424.90,94.90 418.70,98.00" fill="rgba(0,128,0,0.6)"/>
<polygon points="421.90,96.30 428.10,99.40 421.90,102.50" fill="rgba(0,128,0,0.6)"/>
<polygon points="431.60,107.70 437.80,110.80 431.60,113.90" fill="rgba(0,128,0,0.6)"/>
<polygon points="446.00,121.50 452.20,124.60 446.00,127.70" fill="rgba(0,128,0,0.6)"/>
<polygon points="451.90,127.70 458.10,130.80 451.90,133.90" fill="rgba(0,128,0,0.6)"/>
<polygon points="451.40,131.50 457.60,134.60 451.40,137.70" fill="rgba(0,128,0,0.6)"/>
<polygon points="458.90,137.90 465.10,141.00 458.90,144.10" fill="rgba(0,128,0,0.6)"/>
<polygon points="459.90,170.30 466.10,173.40 459.90,176.50" fill="rgba(0,128,0,0.6)"/>
<polygon points="325.10,52.90 318.90,56.00 325.10,59.10" fill="rgba(0,128,0,0.6)"/>
<polygon points="379.40,58.80 373.20,61.90 379.40,65.00" fill="rgba(0,128,0,0.6)"/>
<polygon points="404.15,68.60 397.95,71.70 404.15,74.80" fill="rgba(0,128,0,0.6)"/>
<polygon points="413.90,75.10 407.70,78.20 413.90,81.30" fill="rgba(0,128,0,0.6)"/>
<polygon points="418.30,81.90 412.10,85.00 418.30,88.10" fill="rgba(0,128,0,0.6)"/>
<polygon points="429.50,91.80 423.30,94.90 429.50,98.00" fill="rgba(0,128,0,0.6)"/>
<polygon points="435.30,96.30 429.10,99.40 435.30,102.50" fill="rgba(0,128,0,0.6)"/>
<polygon points="451.70,107.70 445.50,110.80 451.70,113.90" fill="rgba(0,128,0,0.6)"/>
<polygon points="460.10,121.50 453.90,124.60 460.10,127.70" fill="rgba(0,128,0,0.6)"/>
<polygon points="459.60,125.20 453.40,128.30 459.60,131.40" fill="rgba(0,128,0,0.6)"/>
<polygon points="461.10,130.70 454.90,133.80 461.10,136.90" fill="rgba(0,128,0,0.6)"/>
<polygon points="465.60,131.50 459.40,134.60 465.60,137.70" fill="rgba(0,128,0,0.6)"/>
<polygon points="466.10,137.90 459.90,141.00 466.10,144.10" fill="rgba(0,128,0,0.6)"/>
<polygon points="466.60,142.90 460.40,146.00 466.60,149.10" fill="rgba(0,128,0,0.6)"/>
<polygon points="463.00,148.90 456.80,152.00 463.00,155.10" fill="rgba(0,128,0,0.6)"/>
<polygon points="457.30,170.30 451.10,173.40 457.30,176.50" fill="rgba(0,128,0,0.6)"/>
<rect x="280.60" y="44.40" width="225.60" height="161.00" fill="none" stroke="#000" stroke-width="0.9"/>
<path d="M280.60,205.40V209.00" stroke="#000" stroke-width="0.9"/>
<path d="M325.72,205.40V209.00" stroke="#000" stroke-width="0.9"/>
<path d="M370.84,205.40V209.00" stroke="#000" stroke-width="0.9"/>
<path d="M415.96,205.40V209.00" stroke="#000" stroke-width="0.9"/>
<path d="M461.08,205.40V209.00" stroke="#000" stroke-width="0.9"/>
<path d="M506.20,205.40V209.00" stroke="#000" stroke-width="0.9"/>
<path d="M277.00,205.40H280.60" stroke="#000" stroke-width="0.9"/>
<path d="M277.00,81.40H280.60" stroke="#000" stroke-width="0.9"/>
<path d="M278.50,168.07H280.60" stroke="#000" stroke-width="0.7"/>
<path d="M278.50,146.24H280.60" stroke="#000" stroke-width="0.7"/>
<path d="M278.50,130.74H280.60" stroke="#000" stroke-width="0.7"/>
<path d="M278.50,118.73H280.60" stroke="#000" stroke-width="0.7"/>
<path d="M278.50,108.91H280.60" stroke="#000" stroke-width="0.7"/>
<path d="M278.50,100.61H280.60" stroke="#000" stroke-width="0.7"/>
<path d="M278.50,93.42H280.60" stroke="#000" stroke-width="0.7"/>
<path d="M278.50,87.07H280.60" stroke="#000" stroke-width="0.7"/>
<rect x="280.60" y="218.30" width="67.68" height="160.20" fill="rgb(255,216,216)"/>
<rect x="348.28" y="218.30" width="45.12" height="160.20" fill="rgb(255,241,241)"/>
<path d="M348.28,378.50V218.30" stroke="rgb(128,128,128)" stroke-width="1" stroke-dasharray="3.7 1.6"/>
<path d="M393.40,378.50V218.30" stroke="rgb(128,128,128)" stroke-width="1" stroke-dasharray="1 1.65"/>
<path d="M461.08,378.50V218.30" stroke="#000" stroke-width="1.5"/>
<path d="M280.60,251.4H506.20" stroke="rgb(0,100,0)" stroke-width="1.1"/>
<path d="M280.60,252.7H506.20" stroke="rgb(139,0,0)" stroke-width="1.55" stroke-dasharray="5.7 2.5"/>
<rect x="322.20" y="228.30" width="6.20" height="6.20" fill="rgba(255,0,0,0.6)"/>
<rect x="338.30" y="232.70" width="6.20" height="6.20" fill="rgba(255,0,0,0.6)"/>
<rect x="347.90" y="238.00" width="6.20" height="6.20" fill="rgba(255,0,0,0.6)"/>
<rect x="375.90" y="242.90" width="6.20" height="6.20" fill="rgba(255,0,0,0.6)"/>
<rect x="399.80" y="244.90" width="6.20" height="6.20" fill="rgba(255,0,0,0.6)"/>
<rect x="412.40" y="246.60" width="6.20" height="6.20" fill="rgba(255,0,0,0.6)"/>
<rect x="419.80" y="251.20" width="6.20" height="6.20" fill="rgba(255,0,0,0.6)"/>
<rect x="439.90" y="264.40" width="6.20" height="6.20" fill="rgba(255,0,0,0.6)"/>
<rect x="436.30" y="260.90" width="6.20" height="6.20" fill="rgba(255,0,0,0.6)"/>
<rect x="436.30" y="266.40" width="6.20" height="6.20" fill="rgba(255,0,0,0.6)"/>
<rect x="444.10" y="266.70" width="6.20" height="6.20" fill="rgba(255,0,0,0.6)"/>
<rect x="454.30" y="270.90" width="6.20" height="6.20" fill="rgba(255,0,0,0.6)"/>
<rect x="464.10" y="272.90" width="6.20" height="6.20" fill="rgba(255,0,0,0.6)"/>
<rect x="469.00" y="273.90" width="6.20" height="6.20" fill="rgba(255,0,0,0.6)"/>
<rect x="475.90" y="283.90" width="6.20" height="6.20" fill="rgba(255,0,0,0.6)"/>
<rect x="442.60" y="363.10" width="6.20" height="6.20" fill="rgba(255,0,0,0.6)"/>
<polygon points="315.50,228.30 321.70,228.30 318.60,234.50" fill="rgba(0,0,255,0.6)"/>
<polygon points="337.10,232.70 343.30,232.70 340.20,238.90" fill="rgba(0,0,255,0.6)"/>
<polygon points="351.80,238.00 358.00,238.00 354.90,244.20" fill="rgba(0,0,255,0.6)"/>
<polygon points="369.10,242.90 375.30,242.90 372.20,249.10" fill="rgba(0,0,255,0.6)"/>
<polygon points="393.10,244.90 399.30,244.90 396.20,251.10" fill="rgba(0,0,255,0.6)"/>
<polygon points="412.20,246.60 418.40,246.60 415.30,252.80" fill="rgba(0,0,255,0.6)"/>
<polygon points="418.30,251.20 424.50,251.20 421.40,257.40" fill="rgba(0,0,255,0.6)"/>
<polygon points="435.90,258.40 442.10,258.40 439.00,264.60" fill="rgba(0,0,255,0.6)"/>
<polygon points="439.40,258.40 445.60,258.40 442.50,264.60" fill="rgba(0,0,255,0.6)"/>
<polygon points="437.40,260.40 443.60,260.40 440.50,266.60" fill="rgba(0,0,255,0.6)"/>
<polygon points="439.70,260.90 445.90,260.90 442.80,267.10" fill="rgba(0,0,255,0.6)"/>
<polygon points="438.70,266.40 444.90,266.40 441.80,272.60" fill="rgba(0,0,255,0.6)"/>
<polygon points="440.20,266.70 446.40,266.70 443.30,272.90" fill="rgba(0,0,255,0.6)"/>
<polygon points="448.90,270.90 455.10,270.90 452.00,277.10" fill="rgba(0,0,255,0.6)"/>
<polygon points="454.30,270.90 460.50,270.90 457.40,277.10" fill="rgba(0,0,255,0.6)"/>
<polygon points="456.30,272.90 462.50,272.90 459.40,279.10" fill="rgba(0,0,255,0.6)"/>
<polygon points="459.20,272.90 465.40,272.90 462.30,279.10" fill="rgba(0,0,255,0.6)"/>
<polygon points="462.60,273.90 468.80,273.90 465.70,280.10" fill="rgba(0,0,255,0.6)"/>
<polygon points="474.00,283.90 480.20,283.90 477.10,290.10" fill="rgba(0,0,255,0.6)"/>
<polygon points="448.80,363.10 455.00,363.10 451.90,369.30" fill="rgba(0,0,255,0.6)"/>
<polygon points="443.90,262.40 450.10,262.40 447.00,268.60" fill="rgba(0,0,255,0.6)"/>
<polygon points="448.90,266.40 455.10,266.40 452.00,272.60" fill="rgba(0,0,255,0.6)"/>
<polygon points="453.40,268.90 459.60,268.90 456.50,275.10" fill="rgba(0,0,255,0.6)"/>
<polygon points="456.90,271.90 463.10,271.90 460.00,278.10" fill="rgba(0,0,255,0.6)"/>
<circle cx="331.00" cy="231.40" r="3.10" fill="rgba(0,0,0,0.5)"/>
<circle cx="360.80" cy="235.80" r="3.10" fill="rgba(0,0,0,0.5)"/>
<circle cx="382.50" cy="241.10" r="3.10" fill="rgba(0,0,0,0.5)"/>
<circle cx="398.00" cy="246.00" r="3.10" fill="rgba(0,0,0,0.5)"/>
<circle cx="411.90" cy="249.70" r="3.10" fill="rgba(0,0,0,0.5)"/>
<circle cx="414.40" cy="255.30" r="3.10" fill="rgba(0,0,0,0.5)"/>
<circle cx="424.20" cy="261.50" r="3.10" fill="rgba(0,0,0,0.5)"/>
<circle cx="429.00" cy="261.50" r="3.10" fill="rgba(0,0,0,0.5)"/>
<circle cx="427.00" cy="262.00" r="3.10" fill="rgba(0,0,0,0.5)"/>
<circle cx="453.40" cy="269.50" r="3.10" fill="rgba(0,0,0,0.5)"/>
<circle cx="465.10" cy="287.00" r="3.10" fill="rgba(0,0,0,0.5)"/>
<circle cx="435.80" cy="366.20" r="3.10" fill="rgba(0,0,0,0.5)"/>
<polygon points="319.90,228.30 326.10,231.40 319.90,234.50" fill="rgba(0,128,0,0.6)"/>
<polygon points="368.80,232.70 375.00,235.80 368.80,238.90" fill="rgba(0,128,0,0.6)"/>
<polygon points="393.85,238.00 400.05,241.10 393.85,244.20" fill="rgba(0,128,0,0.6)"/>
<polygon points="405.10,242.90 411.30,246.00 405.10,249.10" fill="rgba(0,128,0,0.6)"/>
<polygon points="408.50,244.90 414.70,248.00 408.50,251.10" fill="rgba(0,128,0,0.6)"/>
<polygon points="418.70,246.60 424.90,249.70 418.70,252.80" fill="rgba(0,128,0,0.6)"/>
<polygon points="421.90,251.20 428.10,254.30 421.90,257.40" fill="rgba(0,128,0,0.6)"/>
<polygon points="431.60,258.40 437.80,261.50 431.60,264.60" fill="rgba(0,128,0,0.6)"/>
<polygon points="446.00,260.90 452.20,264.00 446.00,267.10" fill="rgba(0,128,0,0.6)"/>
<polygon points="451.90,266.40 458.10,269.50 451.90,272.60" fill="rgba(0,128,0,0.6)"/>
<polygon points="451.40,266.70 457.60,269.80 451.40,272.90" fill="rgba(0,128,0,0.6)"/>
<polygon points="458.90,270.90 465.10,274.00 458.90,277.10" fill="rgba(0,128,0,0.6)"/>
<polygon points="459.90,283.90 466.10,287.00 459.90,290.10" fill="rgba(0,128,0,0.6)"/>
<polygon points="441.70,363.10 447.90,366.20 441.70,369.30" fill="rgba(0,128,0,0.6)"/>
<polygon points="325.10,228.30 318.90,231.40 325.10,234.50" fill="rgba(0,128,0,0.6)"/>
<polygon points="379.40,232.70 373.20,235.80 379.40,238.90" fill="rgba(0,128,0,0.6)"/>
<polygon points="404.15,238.00 397.95,241.10 404.15,244.20" fill="rgba(0,128,0,0.6)"/>
<polygon points="413.90,242.90 407.70,246.00 413.90,249.10" fill="rgba(0,128,0,0.6)"/>
<polygon points="418.30,244.90 412.10,248.00 418.30,251.10" fill="rgba(0,128,0,0.6)"/>
<polygon points="429.50,246.60 423.30,249.70 429.50,252.80" fill="rgba(0,128,0,0.6)"/>
<polygon points="435.30,251.20 429.10,254.30 435.30,257.40" fill="rgba(0,128,0,0.6)"/>
<polygon points="451.70,258.40 445.50,261.50 451.70,264.60" fill="rgba(0,128,0,0.6)"/>
<polygon points="460.10,262.90 453.90,266.00 460.10,269.10" fill="rgba(0,128,0,0.6)"/>
<polygon points="459.60,266.40 453.40,269.50 459.60,272.60" fill="rgba(0,128,0,0.6)"/>
<polygon points="461.10,268.40 454.90,271.50 461.10,274.60" fill="rgba(0,128,0,0.6)"/>
<polygon points="465.60,266.70 459.40,269.80 465.60,272.90" fill="rgba(0,128,0,0.6)"/>
<polygon points="466.10,270.90 459.90,274.00 466.10,277.10" fill="rgba(0,128,0,0.6)"/>
<polygon points="466.60,272.90 460.40,276.00 466.60,279.10" fill="rgba(0,128,0,0.6)"/>
<polygon points="463.00,273.90 456.80,277.00 463.00,280.10" fill="rgba(0,128,0,0.6)"/>
<polygon points="457.30,283.90 451.10,287.00 457.30,290.10" fill="rgba(0,128,0,0.6)"/>
<polygon points="416.90,363.10 410.70,366.20 416.90,369.30" fill="rgba(0,128,0,0.6)"/>
<polygon points="455.10,262.90 448.90,266.00 455.10,269.10" fill="rgba(0,128,0,0.6)"/>
<rect x="280.60" y="218.30" width="225.60" height="160.20" fill="none" stroke="#000" stroke-width="0.9"/>
<path d="M280.60,378.50V382.10" stroke="#000" stroke-width="0.9"/>
<path d="M325.72,378.50V382.10" stroke="#000" stroke-width="0.9"/>
<path d="M370.84,378.50V382.10" stroke="#000" stroke-width="0.9"/>
<path d="M415.96,378.50V382.10" stroke="#000" stroke-width="0.9"/>
<path d="M461.08,378.50V382.10" stroke="#000" stroke-width="0.9"/>
<path d="M506.20,378.50V382.10" stroke="#000" stroke-width="0.9"/>
<path d="M277.00,366.18H280.60" stroke="#000" stroke-width="0.9"/>
<path d="M277.00,341.53H280.60" stroke="#000" stroke-width="0.9"/>
<path d="M277.00,316.88H280.60" stroke="#000" stroke-width="0.9"/>
<path d="M277.00,292.24H280.60" stroke="#000" stroke-width="0.9"/>
<path d="M277.00,267.59H280.60" stroke="#000" stroke-width="0.9"/>
<path d="M277.00,242.95H280.60" stroke="#000" stroke-width="0.9"/>
<path d="M277.00,218.30H280.60" stroke="#000" stroke-width="0.9"/>
<text x="280.80" y="392.7" font-size="9.8" text-anchor="middle" textLength="12.6" lengthAdjust="spacingAndGlyphs">−8</text>
<text x="325.92" y="392.7" font-size="9.8" text-anchor="middle" textLength="12.6" lengthAdjust="spacingAndGlyphs">−6</text>
<text x="371.04" y="392.7" font-size="9.8" text-anchor="middle" textLength="12.6" lengthAdjust="spacingAndGlyphs">−4</text>
<text x="416.16" y="392.7" font-size="9.8" text-anchor="middle" textLength="12.6" lengthAdjust="spacingAndGlyphs">−2</text>
<text x="461.28" y="392.7" font-size="9.8" text-anchor="middle" textLength="5.2" lengthAdjust="spacingAndGlyphs">0</text>
<text x="506.40" y="392.7" font-size="9.8" text-anchor="middle" textLength="5.2" lengthAdjust="spacingAndGlyphs">2</text>
<text x="353.75" y="405.7" font-size="9.8" textLength="10.6" lengthAdjust="spacingAndGlyphs">ln(</text>
<text x="365.25" y="405.7" font-size="9.8" font-style="italic" textLength="7.6" lengthAdjust="spacingAndGlyphs">Z</text>
<text x="373.05" y="406.9" font-size="6.6" textLength="15.4" lengthAdjust="spacingAndGlyphs">EOS</text>
<text x="388.35" y="405.7" font-size="9.8" textLength="4.2" lengthAdjust="spacingAndGlyphs">/</text>
<text x="392.85" y="405.7" font-size="9.8" font-style="italic" textLength="7.6" lengthAdjust="spacingAndGlyphs">Z</text>
<text x="400.95" y="406.9" font-size="6.6" textLength="27.6" lengthAdjust="spacingAndGlyphs">KDE0V</text>
<text x="429.25" y="405.7" font-size="9.8" textLength="3.0" lengthAdjust="spacingAndGlyphs">)</text>
<text x="392.20" y="356.7" font-size="9.6" textLength="49.5" lengthAdjust="spacingAndGlyphs">Black holes</text>
<text x="16.0" y="84.70" font-size="9.8" textLength="9.8" lengthAdjust="spacingAndGlyphs">10</text>
<text x="25.8" y="81.90" font-size="7.3" textLength="4.3" lengthAdjust="spacingAndGlyphs">3</text>
<text x="16.0" y="208.70" font-size="9.8" textLength="9.8" lengthAdjust="spacingAndGlyphs">10</text>
<text x="25.8" y="205.90" font-size="7.3" textLength="4.3" lengthAdjust="spacingAndGlyphs">2</text>
<text x="25.5" y="369.38" font-size="9.8" textLength="4.9" lengthAdjust="spacingAndGlyphs">4</text>
<text x="25.5" y="344.73" font-size="9.8" textLength="4.9" lengthAdjust="spacingAndGlyphs">6</text>
<text x="25.5" y="320.08" font-size="9.8" textLength="4.9" lengthAdjust="spacingAndGlyphs">8</text>
<text x="20.6" y="295.44" font-size="9.8" textLength="9.8" lengthAdjust="spacingAndGlyphs">10</text>
<text x="20.6" y="270.79" font-size="9.8" textLength="9.8" lengthAdjust="spacingAndGlyphs">12</text>
<text x="20.6" y="246.15" font-size="9.8" textLength="9.8" lengthAdjust="spacingAndGlyphs">14</text>
<text x="20.6" y="221.50" font-size="9.8" textLength="9.8" lengthAdjust="spacingAndGlyphs">16</text>
<text transform="translate(9.6,125) rotate(-90)" font-size="9.8" text-anchor="middle" textLength="56.5" lengthAdjust="spacingAndGlyphs" stroke="#000" stroke-width="0.08">Λ(<tspan font-style="italic">M</tspan> = 1.36)</text>
<text transform="translate(13.4,298) rotate(-90)" font-size="9.8" text-anchor="middle" textLength="78.5" lengthAdjust="spacingAndGlyphs" stroke="#000" stroke-width="0.08"><tspan font-style="italic">R</tspan>(<tspan font-style="italic">M</tspan> = 1.36) [km]</text>
<text transform="translate(92.8,169.6) rotate(-90)" font-size="9.6" text-anchor="middle" textLength="57.5" lengthAdjust="spacingAndGlyphs" stroke="#000" stroke-width="0.08">very strongly</text>
<text transform="translate(102.6,170.9) rotate(-90)" font-size="9.6" text-anchor="middle" textLength="50.0" lengthAdjust="spacingAndGlyphs" stroke="#000" stroke-width="0.08">disfavoured</text>
<text transform="translate(139.3,173.9) rotate(-90)" font-size="9.6" text-anchor="middle" textLength="37.0" lengthAdjust="spacingAndGlyphs" stroke="#000" stroke-width="0.08">strongly</text>
<text transform="translate(146.6,175.6) rotate(-90)" font-size="9.6" text-anchor="middle" textLength="50.8" lengthAdjust="spacingAndGlyphs" stroke="#000" stroke-width="0.08">disfavoured</text>
<rect x="36.7" y="1.9" width="470.5" height="32.2" rx="2" ry="2" fill="rgba(255,255,255,0.8)" stroke="rgb(204,204,204)" stroke-width="0.9"/>
<polygon points="47.70,6.10 53.90,6.10 50.80,12.30" fill="rgba(0,0,255,0.6)"/>
<circle cx="50.80" cy="24.00" r="3.10" fill="rgba(0,0,0,0.5)"/>
<path d="M178.90,9.40H185.10M182.00,6.30V12.50" stroke="rgba(0,0,0,0.55)" stroke-width="1.1" fill="none"/>
<path d="M178.90,21.20L185.10,27.40M178.90,27.40L185.10,21.20" stroke="rgba(0,0,0,0.55)" stroke-width="1.1" fill="none"/>
<polygon points="302.10,6.30 308.30,9.40 302.10,12.50" fill="rgba(0,128,0,0.6)"/>
<polygon points="308.30,20.70 302.10,23.80 308.30,26.90" fill="rgba(0,128,0,0.6)"/>
<rect x="415.90" y="6.00" width="6.20" height="6.20" fill="rgba(255,0,0,0.6)"/>
<text x="69.3" y="12.8" font-size="9.6" textLength="50.4" lengthAdjust="spacingAndGlyphs">EOB+NRT</text>
<text x="69.3" y="27.5" font-size="9.6" textLength="82.3" lengthAdjust="spacingAndGlyphs">TaylorF2 (7.5 PN)</text>
<text x="200.7" y="12.8" font-size="9.6" textLength="73.6" lengthAdjust="spacingAndGlyphs">TaylorF2 (6 PN)</text>
<text x="200.7" y="27.5" font-size="9.6" textLength="73.6" lengthAdjust="spacingAndGlyphs">TaylorF2 (7 PN)</text>
<text x="323.6" y="12.8" font-size="9.6" textLength="60.1" lengthAdjust="spacingAndGlyphs">SEOBNRv4T</text>
<text x="323.6" y="27.5" font-size="9.6" textLength="64.8" lengthAdjust="spacingAndGlyphs">TEOBResumS</text>
<text x="437.0" y="12.8" font-size="9.6" textLength="66.0" lengthAdjust="spacingAndGlyphs">Phenom+NRT</text>
</svg>
</body></html>
